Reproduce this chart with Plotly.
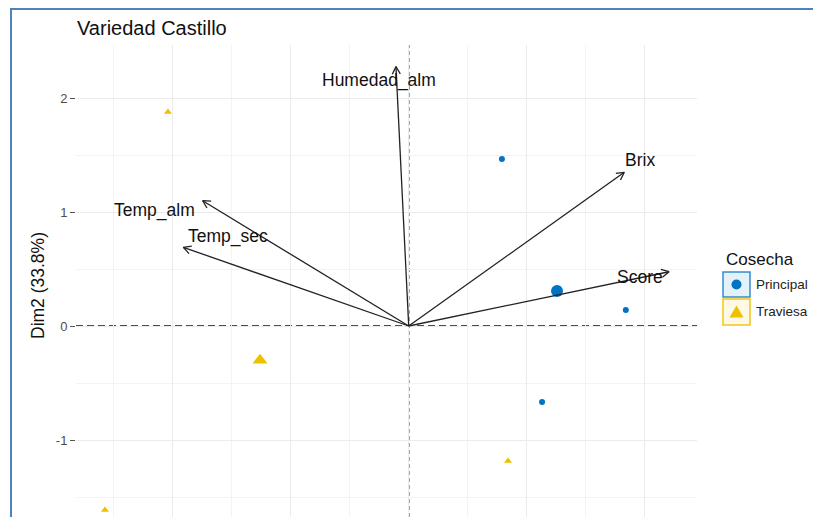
import math
import plotly.graph_objects as go

# ---------------- data ----------------
# individuals (PCA coordinates, Dim1 / Dim2)
principal_x = [0.790, 1.840, 1.130]
principal_y = [1.465, 0.140, -0.667]
traviesa_x = [-2.040, 0.842, -2.574]
traviesa_y = [1.877, -1.184, -1.614]

# group centroids (mean points)
centroid_groups = ["Principal", "Traviesa"]
centroid_x = [1.257, -1.260]
centroid_y = [0.307, -0.300]

# variables (arrow tips)
variables = ["Humedad_alm", "Brix", "Score", "Temp_alm", "Temp_sec"]
var_x = [-0.108, 1.827, 2.206, -1.746, -1.910]
var_y = [2.275, 1.348, 0.476, 1.099, 0.690]

y_ticks = [-1, 0, 1, 2]
y_tick_labels = ["-1", "0", "1", "2"]

# ---------------- style / layout ----------------
OFF = 8                 # page body margin of the browser
W, H = 821 - OFF, 517 - OFF
PLOT_L, PLOT_T, PLOT_R, PLOT_B = 76, 45, 697, 517   # page pixels
ML, MT = PLOT_L - OFF, PLOT_T - OFF
PW, PH = PLOT_R - PLOT_L, PLOT_B - PLOT_T
MR, MB = W - ML - PW, H - MT - PH
X0_PX = 408.7           # page pixel of x = 0
Y0_PX = 326.0           # page pixel of y = 0
SX, SY = 118.0, 114.0   # pixels per unit
x_range = [(PLOT_L - X0_PX) / SX, (PLOT_R - X0_PX) / SX]
y_range = [(Y0_PX - PLOT_B) / SY, (Y0_PX - PLOT_T) / SY]

BLUE = "#0073C2"
GOLD = "#EFC000"
FONT = "Liberation Sans, Arial, sans-serif"

# label offsets (pixels, right / down) relative to arrow tips
label_offsets = {
    "Humedad_alm": (-17, 14),
    "Brix": (16, -12),
    "Score": (-29, 5),
    "Temp_alm": (-48, 10),
    "Temp_sec": (45, -11),
}


def px_x(px):
    return (px - PLOT_L) / PW


def px_y(py):
    return (PLOT_B - py) / PH


fig = go.Figure()

# individuals
fig.add_trace(go.Scatter(x=principal_x, y=principal_y, mode="markers",
                         marker=dict(color=BLUE, size=6, symbol="circle"),
                         name="Principal", showlegend=False))
fig.add_trace(go.Scatter(x=traviesa_x, y=traviesa_y, mode="markers",
                         marker=dict(color=GOLD, size=7, symbol="triangle-up"),
                         name="Traviesa", showlegend=False))
# centroids
fig.add_trace(go.Scatter(x=[centroid_x[0]], y=[centroid_y[0]], mode="markers",
                         marker=dict(color=BLUE, size=12, symbol="circle"),
                         showlegend=False, name=centroid_groups[0]))
fig.add_trace(go.Scatter(x=[centroid_x[1]], y=[centroid_y[1]], mode="markers",
                         marker=dict(color=GOLD, size=13, symbol="triangle-up"),
                         showlegend=False, name=centroid_groups[1]))

# variable arrows with open heads
head_len, head_ang = 8.5, math.radians(28)
ax_, ay_ = [], []
for vx, vy in zip(var_x, var_y):
    ux, uy = vx * SX, vy * SY
    n = math.hypot(ux, uy)
    ux, uy = ux / n, uy / n
    heads = []
    for s in (1, -1):
        c, si = math.cos(s * head_ang), math.sin(s * head_ang)
        rx, ry = ux * c - uy * si, ux * si + uy * c
        heads.append((vx - head_len * rx / SX, vy - head_len * ry / SY))
    ax_ += [0, vx, None, heads[0][0], vx, heads[1][0], None]
    ay_ += [0, vy, None, heads[0][1], vy, heads[1][1], None]
fig.add_trace(go.Scatter(x=ax_, y=ay_, mode="lines",
                         line=dict(color="#222222", width=1.3),
                         showlegend=False, hoverinfo="skip"))

annotations = []
for name, vx, vy in zip(variables, var_x, var_y):
    dx, dy = label_offsets[name]
    annotations.append(dict(x=vx, y=vy, xref="x", yref="y", text=name,
                            showarrow=False, xshift=dx, yshift=-dy,
                            font=dict(family=FONT, size=17.5, color="#111111")))

# y-axis title
annotations.append(dict(x=px_x(38), y=px_y(286), xref="paper", yref="paper",
                        xanchor="center", yanchor="middle",
                        text="Dim2 (33.8%)", textangle=-90, showarrow=False,
                        font=dict(family=FONT, size=17.5, color="#111111")))

# legend (manual)
annotations.append(dict(x=px_x(724), y=px_y(259), xref="paper", yref="paper",
                        xanchor="left", text="Cosecha", showarrow=False,
                        font=dict(family=FONT, size=17, color="#111111")))
for lbl, yc in (("Principal", 284.5), ("Traviesa", 312)):
    annotations.append(dict(x=px_x(754), y=px_y(yc), xref="paper", yref="paper",
                            xanchor="left", text=lbl, showarrow=False,
                            font=dict(family=FONT, size=13.5, color="#222222")))

shapes = [
    # reference lines
    dict(type="line", xref="paper", yref="y", x0=0, x1=1, y0=0, y1=0,
         line=dict(color="#4D4D4D", width=2.0, dash="7px,4px"), layer="below"),
    dict(type="line", xref="x", yref="paper", x0=0, x1=0, y0=0, y1=1,
         line=dict(color="#000000", width=1.3, dash="4px,3px"), layer="below"),
    # legend keys
    dict(type="rect", xref="paper", yref="paper",
         x0=px_x(723), x1=px_x(750), y0=px_y(297), y1=px_y(272),
         fillcolor="rgba(0,115,194,0.10)", line=dict(color="rgba(0,115,194,0.8)", width=1.5)),
    dict(type="rect", xref="paper", yref="paper",
         x0=px_x(723), x1=px_x(750), y0=px_y(325), y1=px_y(299),
         fillcolor="rgba(239,192,0,0.10)", line=dict(color="rgba(239,192,0,0.9)", width=1.5)),
    dict(type="circle", xref="paper", yref="paper",
         x0=px_x(731.5), x1=px_x(741.5), y0=px_y(289.5), y1=px_y(279.5),
         fillcolor=BLUE, line=dict(width=0)),
    dict(type="path", xref="paper", yref="paper",
         path=f"M {px_x(729.5)} {px_y(317.5)} L {px_x(743.5)} {px_y(317.5)} "
              f"L {px_x(736.5)} {px_y(305.5)} Z",
         fillcolor=GOLD, line=dict(width=0)),
    # blue frame of the screenshot
    dict(type="line", xref="paper", yref="paper", x0=px_x(11), x1=px_x(11),
         y0=px_y(9), y1=px_y(520), line=dict(color="#4F81BD", width=2)),
    dict(type="line", xref="paper", yref="paper", x0=px_x(10), x1=px_x(825),
         y0=px_y(9), y1=px_y(9), line=dict(color="#4F81BD", width=2)),
]

fig.update_layout(
    width=W, height=H,
    margin=dict(l=ML, r=MR, t=MT, b=MB, pad=0),
    paper_bgcolor="white", plot_bgcolor="white",
    title=dict(text="Variedad Castillo", x=(77 - OFF) / W, xref="container", xanchor="left",
               y=1 - (27.5 - OFF) / H, yref="container", yanchor="middle",
               font=dict(family=FONT, size=20, color="#111111")),
    font=dict(family=FONT),
    showlegend=False,
    annotations=annotations,
    shapes=shapes,
)
fig.update_xaxes(range=x_range, tick0=0, dtick=1, showgrid=True, gridcolor="#EBEBEB",
                 gridwidth=1.2, zeroline=False, showline=False, showticklabels=False,
                 ticks="", minor=dict(dtick=0.5, tick0=0, showgrid=True,
                                      gridcolor="#F3F3F3", gridwidth=0.8))
fig.update_yaxes(range=y_range, tickvals=y_ticks, ticktext=y_tick_labels,
                 showgrid=True, gridcolor="#EBEBEB",
                 gridwidth=1.2, zeroline=False, showline=False, ticks="outside",
                 ticklen=5, tickwidth=1.2, tickcolor="#555555",
                 tickfont=dict(family=FONT, size=13, color="#4D4D4D"),
                 minor=dict(dtick=0.5, tick0=0, showgrid=True,
                            gridcolor="#F3F3F3", gridwidth=0.8))

fig.write_html("out.html")
